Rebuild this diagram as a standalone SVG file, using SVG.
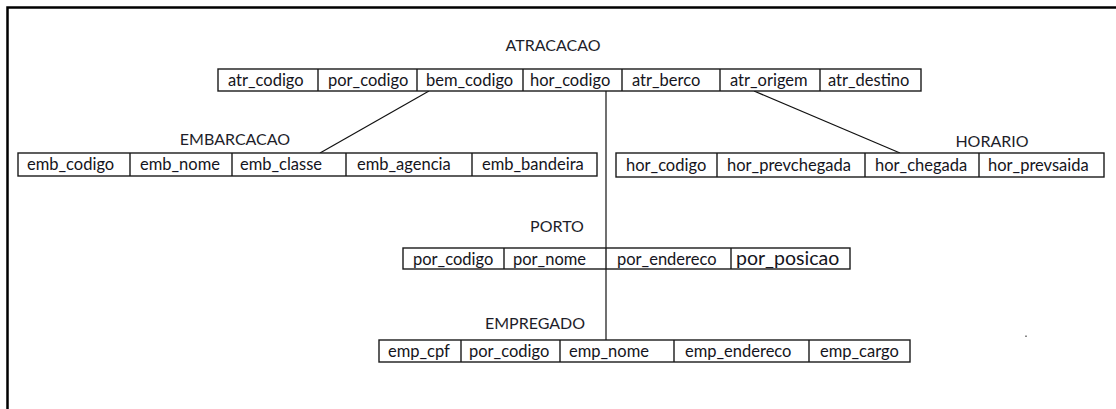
<svg xmlns="http://www.w3.org/2000/svg" width="1116" height="409" viewBox="0 0 1116 409">
<style>
  .bg { fill: #ffffff; }
  .frame { fill: none; stroke: #000; stroke-width: 2.5; }
  .cell { fill: #ffffff; stroke: #1a1a1a; stroke-width: 1.4; }
  .t { font-family: Lato, "Liberation Sans", sans-serif; font-size: 16.5px; fill: #141420; }
  .big { font-size: 19.5px; }
  .title { font-family: Lato, "Liberation Sans", sans-serif; font-size: 16px; fill: #1e1e2a; text-anchor: middle; }
  .conn { stroke: #111; stroke-width: 1.2; fill: none; }
</style>
<rect class="bg" x="0" y="0" width="1116" height="409"/>
<path class="frame" d="M7.5,409 V7.5 H1116"/>

<g id="connectors">
  <line class="conn" x1="429" y1="91" x2="320" y2="153"/>
  <line class="conn" x1="754" y1="91" x2="900" y2="153"/>
  <line class="conn" x1="606" y1="91" x2="606" y2="340"/>
</g>

<g id="atracacao">
  <text class="title" x="553" y="51">ATRACACAO</text>
  <rect class="cell" x="218" y="69" width="703" height="22"/>
  <path class="cell" d="M318,69V91M417,69V91M523,69V91M622,69V91M720,69V91M820,69V91"/>
  <text class="t" x="228" y="86">atr_codigo</text>
  <text class="t" x="328" y="86">por_codigo</text>
  <text class="t" x="426" y="86">bem_codigo</text>
  <text class="t" x="530" y="86">hor_codigo</text>
  <text class="t" x="632" y="86">atr_berco</text>
  <text class="t" x="730" y="86">atr_origem</text>
  <text class="t" x="828" y="86">atr_destino</text>
</g>

<g id="embarcacao">
  <text class="title" x="235" y="145">EMBARCACAO</text>
  <rect class="cell" x="18" y="153" width="579" height="23"/>
  <path class="cell" d="M130,153V176M232,153V176M346,153V176M472,153V176"/>
  <text class="t" x="27" y="170">emb_codigo</text>
  <text class="t" x="140" y="170">emb_nome</text>
  <text class="t" x="240" y="170">emb_classe</text>
  <text class="t" x="357" y="170">emb_agencia</text>
  <text class="t" x="482" y="170">emb_bandeira</text>
</g>

<g id="horario">
  <text class="title" x="992" y="147">HORARIO</text>
  <rect class="cell" x="616" y="153" width="488" height="24"/>
  <path class="cell" d="M717,153V177M865,153V177M979,153V177"/>
  <text class="t" x="626" y="171">hor_codigo</text>
  <text class="t" x="727" y="171">hor_prevchegada</text>
  <text class="t" x="875" y="171">hor_chegada</text>
  <text class="t" x="988" y="171">hor_prevsaida</text>
</g>

<g id="porto">
  <text class="title" x="557" y="232">PORTO</text>
  <rect class="cell" x="403" y="248" width="447" height="21"/>
  <path class="cell" d="M504,248V269M606,248V269M731,248V269"/>
  <text class="t" x="413" y="265">por_codigo</text>
  <text class="t" x="513" y="265">por_nome</text>
  <text class="t" x="617" y="265">por_endereco</text>
  <text class="t big" x="736" y="265">por_posicao</text>
</g>

<g id="empregado">
  <text class="title" x="535" y="329">EMPREGADO</text>
  <rect class="cell" x="379" y="340" width="531" height="22"/>
  <path class="cell" d="M461,340V362M560,340V362M674,340V362M809,340V362"/>
  <text class="t" x="388" y="357">emp_cpf</text>
  <text class="t" x="469" y="357">por_codigo</text>
  <text class="t" x="569" y="357">emp_nome</text>
  <text class="t" x="685" y="357">emp_endereco</text>
  <text class="t" x="820" y="357">emp_cargo</text>
</g>

<rect x="1025" y="335.5" width="2" height="1.5" fill="#888"/>
</svg>
